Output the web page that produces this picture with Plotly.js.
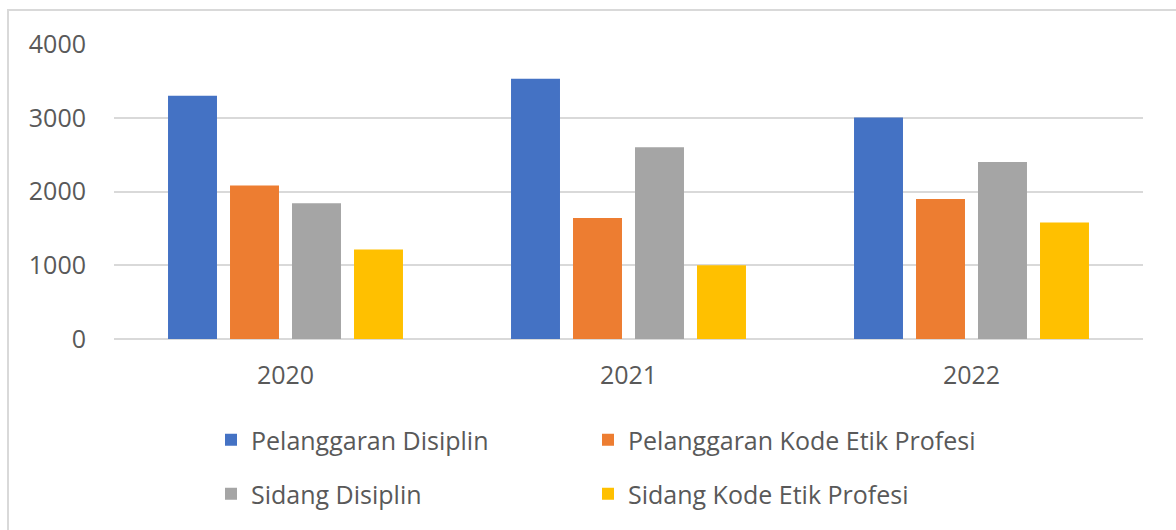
<!DOCTYPE html>
<html>
<head>
<meta charset="utf-8">
<script src="https://cdn.plot.ly/plotly-3.0.1.min.js"></script>
<style>html,body{margin:0;padding:0;background:#fff;}#chart{width:1176px;height:530px;}</style>
</head>
<body>
<div id="chart"></div>
<script>
const years = ["2020", "2021", "2022"];
const seriesNames = ["Pelanggaran Disiplin", "Pelanggaran Kode Etik Profesi", "Sidang Disiplin", "Sidang Kode Etik Profesi"];
const pelanggaranDisiplin = [3300, 3530, 3005];
const pelanggaranKodeEtik = [2080, 1640, 1900];
const sidangDisiplin = [1840, 2600, 2400];
const sidangKodeEtik = [1215, 1000, 1580];
const colors = ["#4472C4", "#ED7D31", "#A5A5A5", "#FFC000"];
const yTicks = [0, 1000, 2000, 3000, 4000];

const values = [pelanggaranDisiplin, pelanggaranKodeEtik, sidangDisiplin, sidangKodeEtik];
const legendIds = ["legend", "legend2", "legend3", "legend4"];
const traces = values.map((v, i) => ({
  type: "bar",
  x: years,
  y: v,
  name: seriesNames[i],
  legend: legendIds[i],
  marker: {color: colors[i]},
  hoverinfo: "x+y+name"
}));

const W = 1176, H = 530;
const m = {l: 114, r: 33, t: 44, b: 191};
const pw = W - m.l - m.r, ph = H - m.t - m.b;
const px = x => (x - m.l) / pw;
const py = y => (H - m.b - y) / ph;

const FONT = "'Open Sans', Lato, sans-serif";
const FS = 25;
function mkLegend(xPix, yPix) {
  return {
    orientation: "h",
    x: px(xPix), xanchor: "left",
    y: py(yPix), yanchor: "top",
    font: {family: FONT, size: FS, color: "#595959"},
    itemclick: false, itemdoubleclick: false,
    bgcolor: "rgba(0,0,0,0)"
  };
}

const layout = {
  width: W, height: H,
  margin: m,
  paper_bgcolor: "#ffffff",
  plot_bgcolor: "#ffffff",
  font: {family: FONT, color: "#595959", size: FS},
  barmode: "group",
  bargap: 0.277,
  bargroupgap: 0.21,
  showlegend: true,
  legend: mkLegend(211, 417),
  legend2: mkLegend(588, 417),
  legend3: mkLegend(211, 471),
  legend4: mkLegend(588, 471),
  xaxis: {
    type: "category",
    showgrid: false,
    zeroline: false,
    showline: false,
    ticks: "",
    tickfont: {family: FONT, size: FS, color: "#595959"},
    ticklabelstandoff: 19
  },
  yaxis: {
    range: [0, 4000],
    tickvals: yTicks,
    ticktext: yTicks.map(String),
    showgrid: true,
    gridcolor: "#d9d9d9",
    gridwidth: 2,
    zeroline: true,
    zerolinecolor: "#d9d9d9",
    zerolinewidth: 2,
    showline: false,
    ticks: "",
    tickfont: {family: FONT, size: FS, color: "#595959"},
    ticklabelstandoff: 27
  },
  shapes: [{
    type: "rect", xref: "paper", yref: "paper",
    x0: px(8), x1: px(1190), y0: py(545), y1: py(10),
    line: {color: "#d9d9d9", width: 2},
    fillcolor: "rgba(0,0,0,0)",
    layer: "below"
  }]
};

Plotly.newPlot("chart", traces, layout, {displayModeBar: false, staticPlot: true});
</script>
</body>
</html>
